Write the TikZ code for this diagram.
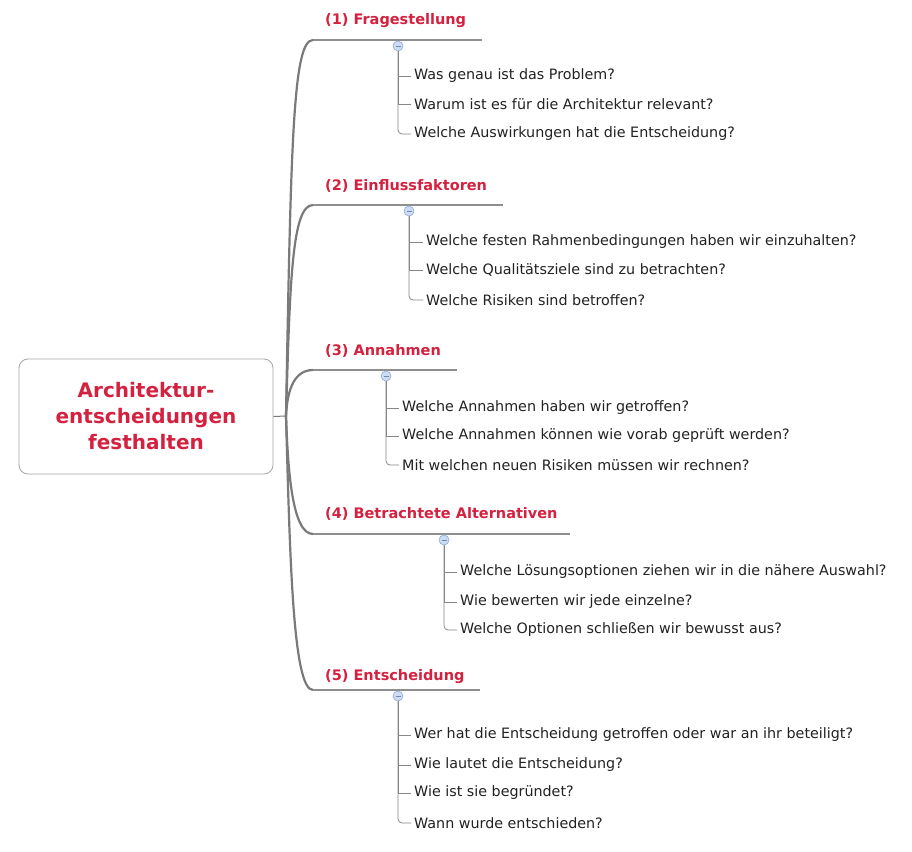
\documentclass[tikz,border=0pt]{standalone}
\usepackage{fontspec}
\setmainfont{DejaVu Sans}
\definecolor{lred}{HTML}{D4213F}
\definecolor{ltxt}{HTML}{222222}
\definecolor{trunk}{HTML}{7A7A7A}
\definecolor{cfill}{HTML}{CCDCF2}
\definecolor{cdraw}{HTML}{8FAADA}
\tikzset{
  lbl/.style={anchor=south west, inner sep=0pt, text=lred, font=\bfseries\fontsize{14.5}{16}\selectfont},
  q/.style={anchor=west, inner sep=0pt, text=ltxt, font=\fontsize{14.3}{16}\selectfont},
  trunkline/.style={draw=trunk, line width=2.2pt},
  uline/.style={draw=trunk!85, line width=1.4pt},
  tick/.style={draw=trunk!90, line width=0.8pt},
  coll/.style={circle, draw=cdraw, fill=cfill, minimum size=10pt, inner sep=0pt, line width=0.6pt},
  mainbox/.style={draw=gray!70, rounded corners=9pt, line width=0.8pt, minimum width=254pt, minimum height=115pt, align=center, text=lred, font=\bfseries\fontsize{20}{26}\selectfont}
}
\begin{document}
\begin{tikzpicture}[x=1pt,y=-1pt]
\useasboundingbox[fill=white] (0,0) rectangle (912,851);
% central node
\node[mainbox] (center) at (146,416.5) {Architektur-\\entscheidungen\\festhalten};
\coordinate (hub) at (286,416);
\draw[trunk, line width=1pt] (center.east) -- (hub);
% branch underline coordinates
\coordinate (u1s) at (313,40);  \coordinate (u1e) at (482,40);
\coordinate (u2s) at (313,205); \coordinate (u2e) at (503,205);
\coordinate (u3s) at (313,370); \coordinate (u3e) at (457,370);
\coordinate (u4s) at (313,534); \coordinate (u4e) at (570,534);
\coordinate (u5s) at (313,690); \coordinate (u5e) at (480,690);
% trunk curves
\draw[trunkline] (hub) .. controls (291,140) and (293,40) .. (u1s);
\draw[trunkline] (hub) .. controls (290,280) and (292,205) .. (u2s);
\draw[trunkline] (hub) .. controls (287,395) and (292,370) .. (u3s);
\draw[trunkline] (hub) .. controls (288,470) and (292,534) .. (u4s);
\draw[trunkline] (hub) .. controls (290,560) and (293,690) .. (u5s);
% underlines
\foreach \i in {1,...,5} { \draw[uline] (u\i s) -- (u\i e); }
% labels
\node[lbl] (b1) at (325,28)  {(1) Fragestellung};
\node[lbl] (b2) at (325,193) {(2) Einflussfaktoren};
\node[lbl] (b3) at (325,358) {(3) Annahmen};
\node[lbl] (b4) at (325,521) {(4) Betrachtete Alternativen};
\node[lbl] (b5) at (325,684) {(5) Entscheidung};
% questions
\node[q] (q11) at (414,76)  {Was genau ist das Problem?};
\node[q] (q12) at (414,104) {Warum ist es für die Architektur relevant?};
\node[q] (q13) at (414,134) {Welche Auswirkungen hat die Entscheidung?};
\node[q] (q21) at (426,242) {Welche festen Rahmenbedingungen haben wir einzuhalten?};
\node[q] (q22) at (426,270) {Welche Qualitätsziele sind zu betrachten?};
\node[q] (q23) at (426,300) {Welche Risiken sind betroffen?};
\node[q] (q31) at (402,408) {Welche Annahmen haben wir getroffen?};
\node[q] (q32) at (402,436) {Welche Annahmen können wie vorab geprüft werden?};
\node[q] (q33) at (402,465) {Mit welchen neuen Risiken müssen wir rechnen?};
\node[q] (q41) at (460,572) {Welche Lösungsoptionen ziehen wir in die nähere Auswahl?};
\node[q] (q42) at (460,602) {Wie bewerten wir jede einzelne?};
\node[q] (q43) at (460,630) {Welche Optionen schließen wir bewusst aus?};
\node[q] (q51) at (414,735) {Wer hat die Entscheidung getroffen oder war an ihr beteiligt?};
\node[q] (q52) at (414,765) {Wie lautet die Entscheidung?};
\node[q] (q53) at (414,793) {Wie ist sie begründet?};
\node[q] (q54) at (414,823) {Wann wurde entschieden?};
% collapse circles
\node[coll] (c1) at (398,46)  {};
\node[coll] (c2) at (409,211) {};
\node[coll] (c3) at (386,376) {};
\node[coll] (c4) at (444,540) {};
\node[coll] (c5) at (398,696) {};
\foreach \i in {1,...,5} { \draw[cdraw!80!black, line width=0.6pt] ([xshift=-2.5pt]c\i.center) -- ([xshift=2.5pt]c\i.center); }
% child connectors
\draw[tick] (c1.south) |- ([xshift=-3pt]q11.west);
\draw[tick] (c1.south) |- ([xshift=-3pt]q12.west);
\draw[tick, rounded corners=4pt] (c1.south) |- ([xshift=-3pt]q13.west);
\draw[tick] (c2.south) |- ([xshift=-3pt]q21.west);
\draw[tick] (c2.south) |- ([xshift=-3pt]q22.west);
\draw[tick, rounded corners=4pt] (c2.south) |- ([xshift=-3pt]q23.west);
\draw[tick] (c3.south) |- ([xshift=-3pt]q31.west);
\draw[tick] (c3.south) |- ([xshift=-3pt]q32.west);
\draw[tick, rounded corners=4pt] (c3.south) |- ([xshift=-3pt]q33.west);
\draw[tick] (c4.south) |- ([xshift=-3pt]q41.west);
\draw[tick] (c4.south) |- ([xshift=-3pt]q42.west);
\draw[tick, rounded corners=4pt] (c4.south) |- ([xshift=-3pt]q43.west);
\draw[tick] (c5.south) |- ([xshift=-3pt]q51.west);
\draw[tick] (c5.south) |- ([xshift=-3pt]q52.west);
\draw[tick] (c5.south) |- ([xshift=-3pt]q53.west);
\draw[tick, rounded corners=4pt] (c5.south) |- ([xshift=-3pt]q54.west);
\end{tikzpicture}
\end{document}
